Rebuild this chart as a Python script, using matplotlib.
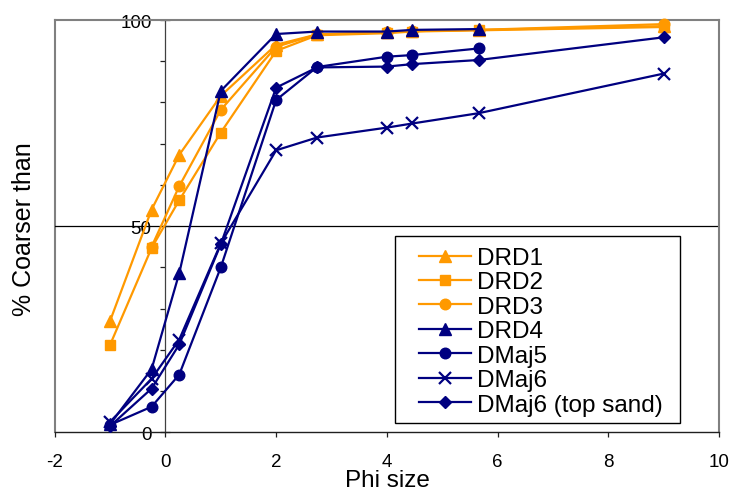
import matplotlib
matplotlib.use("Agg")
import matplotlib.pyplot as plt
from matplotlib.patches import Rectangle
from matplotlib.ticker import MultipleLocator

plt.rcParams['font.family'] = ['Liberation Sans', 'DejaVu Sans']
plt.rcParams['axes.unicode_minus'] = False

# Phi sieve sizes
phi = [-1, -0.25, 0.25, 1, 2, 2.74, 4, 4.46, 5.66, 9]

# Cumulative % coarser than, per sample
drd1 = [27, 54, 67.3, 81.6, 94, 96.5, 97, 97.3, 97.6, 98.5]
drd2 = [21.2, 44.7, 56.3, 72.7, 92.5, 96.3, 96.8, 97.2, 97.5, 98.3]
drd3_phi = phi[1:]
drd3 = [45, 59.7, 78.2, 93.5, 96.5, 97, 97.3, 97.6, 99.0]
drd4_phi = phi[:-1]
drd4 = [2, 15.3, 38.6, 82.8, 96.6, 97.2, 97.2, 97.6, 97.8]
dmaj5_phi = phi[:-1]
dmaj5 = [1.8, 6.2, 14, 40, 80.6, 88.6, 91.1, 91.5, 93.1]
dmaj6 = [2.5, 13, 22.5, 45.8, 68.4, 71.5, 73.9, 74.9, 77.4, 87]
dmaj6_top = [1.5, 10.6, 21.3, 45.6, 83.6, 88.5, 88.7, 89.3, 90.3, 95.8]

labels = ["DRD1", "DRD2", "DRD3", "DRD4", "DMaj5", "DMaj6", "DMaj6 (top sand)"]
x_ticks = [-2, 0, 2, 4, 6, 8, 10]
y_ticks = [0, 50, 100]

ORANGE = "#FF9900"
NAVY = "#000080"

fig = plt.figure(figsize=(7.31, 4.89), dpi=100)
W, H = 731, 489
left_px, right_px, top_px, bot_px = 54.7, 719.0, 21.0, 433.3
ax = fig.add_axes([left_px / W, 1 - bot_px / H,
                   (right_px - left_px) / W, (bot_px - top_px) / H])
ax.set_xlim(-2, 10)
ax.set_ylim(0, 100)

series = [
    (phi, drd1, ORANGE, "^", 8.0, 1),
    (phi, drd2, ORANGE, "s", 7.3, 1),
    (drd3_phi, drd3, ORANGE, "o", 7.6, 1),
    (drd4_phi, drd4, NAVY, "^", 8.0, 1),
    (dmaj5_phi, dmaj5, NAVY, "o", 7.6, 1),
    (phi, dmaj6, NAVY, "x", 8.0, 1.6),
    (phi, dmaj6_top, NAVY, "D", 6.3, 1),
]
handles = []
for (xs, ys, col, mk, ms, mew), lab in zip(series, labels):
    h, = ax.plot(xs, ys, color=col, lw=1.6, marker=mk, markersize=ms,
                 markerfacecolor=col, markeredgecolor=col, markeredgewidth=mew,
                 label=lab, zorder=3, clip_on=False)
    handles.append(h)

# frame and axes lines
GRAY = "#808080"
for side in ("top", "right"):
    ax.spines[side].set_color(GRAY)
    ax.spines[side].set_linewidth(1.5)
ax.axvline(-2, color=GRAY, lw=1.5, clip_on=False, zorder=1)
ax.spines["left"].set_position(("data", 0))
ax.spines["left"].set_color("#404040")
ax.spines["left"].set_linewidth(0.9)
ax.spines["bottom"].set_color("#202020")
ax.spines["bottom"].set_linewidth(1.0)
ax.axhline(50, color="black", lw=0.9, zorder=1)

ax.set_xticks(x_ticks)
ax.set_yticks(y_ticks)
ax.yaxis.set_minor_locator(MultipleLocator(10))
ax.tick_params(axis="y", which="major", direction="inout", length=7,
               width=0.9, pad=6.5, labelsize=13.5, color="#202020")
ax.tick_params(axis="y", which="minor", direction="out", length=3.8,
               width=0.9, color="#202020")
ax.tick_params(axis="x", which="major", direction="out", length=3.8,
               width=0.9, pad=11, labelsize=13.5, color="#202020")

fig.text(24 / W, 1 - 229 / H, "% Coarser than", rotation=90,
         ha="center", va="center", fontsize=18)
fig.text(387 / W, 1 - 487.5 / H, "Phi size", ha="center", va="baseline",
         fontsize=17.5)

# legend box
lx0 = (395 - left_px) / (right_px - left_px)
lx1 = (680 - left_px) / (right_px - left_px)
ly0 = (bot_px - 424) / (bot_px - top_px)
ly1 = (bot_px - 237) / (bot_px - top_px)
ax.add_patch(Rectangle((lx0, ly0), lx1 - lx0, ly1 - ly0, transform=ax.transAxes,
                       facecolor="white", edgecolor="black", lw=1.0, zorder=4,
                       clip_on=False))
leg = ax.legend(handles, labels, loc="upper left",
                bbox_to_anchor=((419 - left_px) / (right_px - left_px),
                                (bot_px - 248) / (bot_px - top_px)),
                frameon=False, fontsize=17.5, handlelength=2.15,
                handletextpad=0.24, labelspacing=0.1, borderpad=0,
                borderaxespad=0, numpoints=1)
leg.set_zorder(5)

fig.savefig("out.png", dpi=100)
